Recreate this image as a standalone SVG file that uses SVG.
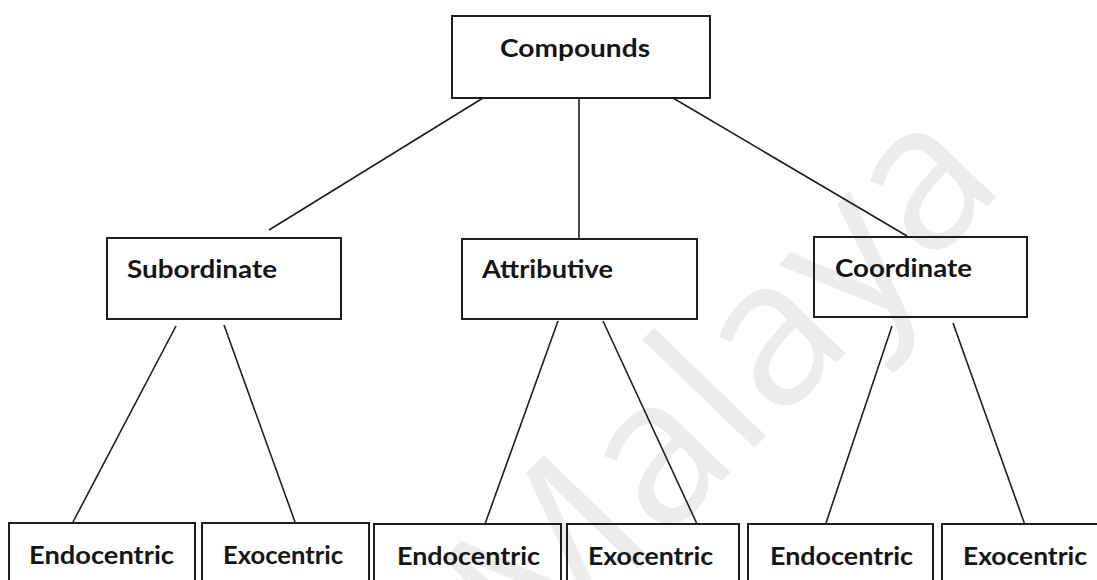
<svg xmlns="http://www.w3.org/2000/svg" width="1097" height="580" viewBox="0 0 1097 580">
  <style>
    .box { fill: none; stroke: #1e1e1e; stroke-width: 2; }
    .lbl { font-family: Lato, "Liberation Sans", Arial, sans-serif; font-weight: 700; font-size: 25px; fill: #151515; }
    .edge { stroke: #1e1e1e; stroke-width: 1.6; fill: none; }
    .wm { font-family: "Open Sans", "Liberation Sans", sans-serif; font-size: 205px; fill: #000000; fill-opacity: 0.075; }
  </style>
  <rect width="1097" height="580" fill="#ffffff"/>

  <!-- faint background watermark -->
  <text class="wm" transform="translate(535 675) rotate(-46)">Malaya</text>

  <g id="connectors">
    <line class="edge" x1="483" y1="98" x2="269" y2="230"/>
    <line class="edge" x1="579" y1="98" x2="579" y2="239"/>
    <line class="edge" x1="673" y1="98" x2="907" y2="236"/>
    <line class="edge" x1="176" y1="326" x2="73" y2="522"/>
    <line class="edge" x1="224" y1="325" x2="295" y2="522"/>
    <line class="edge" x1="558" y1="321" x2="485" y2="524"/>
    <line class="edge" x1="603" y1="321" x2="697" y2="524"/>
    <line class="edge" x1="892" y1="326" x2="826" y2="523"/>
    <line class="edge" x1="953" y1="323" x2="1025" y2="525"/>
  </g>

  <g id="compounds">
    <rect class="box" x="452" y="16" width="258" height="82"/>
    <text class="lbl" x="500" y="57" textLength="150" lengthAdjust="spacingAndGlyphs">Compounds</text>
  </g>
  <g id="subordinate">
    <rect class="box" x="107" y="238" width="234" height="81"/>
    <text class="lbl" x="127" y="278" textLength="150" lengthAdjust="spacingAndGlyphs">Subordinate</text>
  </g>
  <g id="attributive">
    <rect class="box" x="462" y="239" width="235" height="80"/>
    <text class="lbl" x="482" y="278" textLength="131" lengthAdjust="spacingAndGlyphs">Attributive</text>
  </g>
  <g id="coordinate">
    <rect class="box" x="814" y="237" width="213" height="80"/>
    <text class="lbl" x="835" y="277" textLength="137" lengthAdjust="spacingAndGlyphs">Coordinate</text>
  </g>

  <g id="sub-endocentric">
    <rect class="box" x="9" y="523" width="186" height="80"/>
    <text class="lbl" x="29" y="564" textLength="145" lengthAdjust="spacingAndGlyphs">Endocentric</text>
  </g>
  <g id="sub-exocentric">
    <rect class="box" x="202" y="523" width="167" height="80"/>
    <text class="lbl" x="223" y="564" textLength="120" lengthAdjust="spacingAndGlyphs">Exocentric</text>
  </g>
  <g id="attr-endocentric">
    <rect class="box" x="374" y="524" width="187" height="80"/>
    <text class="lbl" x="397" y="565" textLength="143" lengthAdjust="spacingAndGlyphs">Endocentric</text>
  </g>
  <g id="attr-exocentric">
    <rect class="box" x="567" y="524" width="172" height="80"/>
    <text class="lbl" x="588" y="565" textLength="125" lengthAdjust="spacingAndGlyphs">Exocentric</text>
  </g>
  <g id="coord-endocentric">
    <rect class="box" x="748" y="524" width="185" height="80"/>
    <text class="lbl" x="770" y="565" textLength="143" lengthAdjust="spacingAndGlyphs">Endocentric</text>
  </g>
  <g id="coord-exocentric">
    <rect class="box" x="942" y="524" width="160" height="80"/>
    <text class="lbl" x="963" y="565" textLength="124" lengthAdjust="spacingAndGlyphs">Exocentric</text>
  </g>
</svg>
